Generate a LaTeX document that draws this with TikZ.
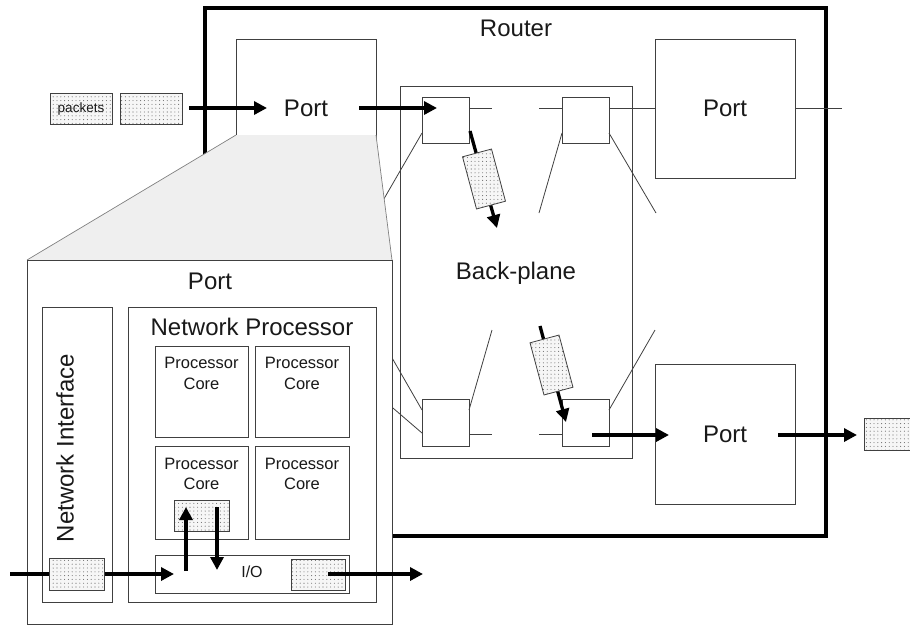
\documentclass[tikz,border=0pt]{standalone}
\usepackage{fontspec}
\setmainfont{Liberation Sans}
\usetikzlibrary{arrows.meta,patterns.meta}
\definecolor{lg}{HTML}{404040}
\definecolor{trap}{HTML}{EFEFEF}
\definecolor{pkbg}{HTML}{F6F6F6}
\definecolor{dotc}{HTML}{707070}
\tikzset{
  box/.style={draw=lg, line width=0.8pt, inner sep=0pt, outer sep=0pt, fill=white},
  thinline/.style={draw=lg, line width=0.8pt},
  arr/.style={line width=3.3pt, black, -{Triangle[length=13pt,width=13pt]}},
  pkt/.style={draw=lg, line width=0.8pt, inner sep=0pt, outer sep=0pt,
    preaction={fill=pkbg}, pattern={Dots[distance=3.8pt,radius=0.55pt]}, pattern color=dotc},
  big/.style={font=\fontsize{24}{28}\selectfont, inner sep=0pt, anchor=base, text=black!90},
  coretxt/.style={font=\fontsize{16.5}{20}\selectfont, inner sep=0pt, anchor=base, text=black!90},
  iotxt/.style={font=\fontsize{16}{20}\selectfont, inner sep=0pt, anchor=base, text=black!90},
  pkttxt/.style={font=\fontsize{13.5}{16}\selectfont, inner sep=0pt, anchor=base, text=black!90},
}
\begin{document}
\begin{tikzpicture}[x=1pt,y=-1pt]
\useasboundingbox (0,0) rectangle (910,625);

% Router
\node[draw=black, line width=3.2pt, inner sep=0pt, outer sep=0pt,
      minimum width=621pt, minimum height=528pt] (router) at (515.5,272) {};
\node[big] (routerlbl) at (516,36) {Router};

% top-left port
\node[box, minimum width=140pt, minimum height=139pt] (tlport) at (306,108.5) {};
\node[big] (tlportlbl) at (306,116.5) {Port};

% right ports
\node[box, minimum width=140pt, minimum height=139pt] (rtport) at (725,108.5) {};
\node[big] (rtportlbl) at (725,116) {Port};
\node[box, minimum width=140pt, minimum height=140pt] (rbport) at (725,434) {};
\node[big] (rbportlbl) at (725,442) {Port};

% back-plane
\node[box, minimum width=232pt, minimum height=372pt] (bp) at (516,272) {};
\node[big] (bplbl) at (516,279) {Back-plane};

% switches
\node[box, minimum width=47pt, minimum height=46pt] (swTL) at (445.5,120) {};
\node[box, minimum width=47pt, minimum height=46pt] (swTR) at (585.5,120) {};
\node[box, minimum width=47pt, minimum height=47pt] (swBL) at (445.5,422.5) {};
\node[box, minimum width=47pt, minimum height=47pt] (swBR) at (585.5,422.5) {};

% crossbar lines
\coordinate (hTLe) at (492,108);
\coordinate (hTRs) at (539,108);
\coordinate (hOut) at (842,108);
\coordinate (hBLe) at (492,434);
\coordinate (hBRs) at (539,434);
\draw[thinline] (swTL.east |- 0,108) -- (hTLe);
\draw[thinline] (hTRs) -- (swTR.west |- 0,108);
\draw[thinline] (swTR.east |- 0,108) -- (rtport.west |- 0,108);
\draw[thinline] (rtport.east |- 0,108) -- (hOut);
\draw[thinline] (swBL.east |- 0,434) -- (hBLe);
\draw[thinline] (hBRs) -- (swBR.west |- 0,434);

\coordinate (dTL) at (370,223);
\coordinate (dTRl) at (539,213);
\coordinate (dTRr) at (656,213);
\coordinate (dBLr) at (492,330);
\coordinate (dBRr) at (655,330);
\coordinate (dBLa) at (372,323);
\coordinate (dBLb) at (372,390);
\draw[thinline] (swTL.west |- 0,133) -- (dTL);
\draw[thinline] (swTR.west |- 0,133) -- (dTRl);
\draw[thinline] (swTR.east |- 0,133) -- (dTRr);
\draw[thinline] (swBL.east |- 0,410) -- (dBLr);
\draw[thinline] (swBR.east |- 0,410) -- (dBRr);
\draw[thinline] (swBL.west |- 0,410) -- (dBLa);
\draw[thinline] (swBL.west |- 0,433) -- (dBLb);

% incoming packets
\node[pkt, minimum width=62pt, minimum height=31pt] (pk1) at (81,108.5) {};
\node[pkttxt] (pk1lbl) at (81,112.7) {packets};
\node[pkt, minimum width=62pt, minimum height=31pt] (pk2) at (151,108.5) {};

\coordinate (a1s) at (189,108);
\coordinate (a1e) at (267,108);
\coordinate (a2s) at (359,108);
\coordinate (a2e) at (437,108);
\draw[arr] (a1s) -- (a1e);
\draw[arr] (a2s) -- (a2e);

% packets through the back-plane
\coordinate (d1s) at (470,131);
\coordinate (d1e) at (497,228);
\draw[arr] (d1s) -- (d1e);
\node[pkt, minimum width=30pt, minimum height=54pt, rotate=15] (dp1) at (484,179) {};
\coordinate (d2s) at (540,326);
\coordinate (d2e) at (566,422);
\draw[arr] (d2s) -- (d2e);
\node[pkt, minimum width=30pt, minimum height=54pt, rotate=15] (dp2) at (551.5,365) {};

% outgoing
\coordinate (a5s) at (592,435);
\coordinate (a5e) at (669,435);
\coordinate (a6s) at (778,435);
\coordinate (a6e) at (857,435);
\draw[arr] (a5s) -- (a5e);
\draw[arr] (a6s) -- (a6e);
\node[pkt, minimum width=62pt, minimum height=32pt] (pkout) at (895,434) {};

% zoom trapezoid
\fill[trap] (236,135) -- (376,135) -- (392,260) -- (27,260) -- cycle;
\draw[draw=gray, line width=0.7pt] (236,135) -- (27,260);
\draw[draw=gray, line width=0.7pt] (376,135) -- (392,260);

% port detail
\node[box, minimum width=365pt, minimum height=364pt] (detail) at (209.5,442) {};
\node[big] (detaillbl) at (210,289) {Port};

\node[box, minimum width=70pt, minimum height=295pt] (ni) at (77,454.5) {};
\node[font=\fontsize{24}{28}\selectfont, inner sep=0pt, rotate=90, text=black!90] (nilbl) at (65,448) {Network Interface};

\node[box, minimum width=248pt, minimum height=295pt] (np) at (252,454.5) {};
\node[big] (nplbl) at (252,335) {Network Processor};

\node[box, minimum width=93pt, minimum height=91pt] (c1) at (201.5,391.5) {};
\node[box, minimum width=94pt, minimum height=91pt] (c2) at (302,391.5) {};
\node[box, minimum width=93pt, minimum height=93pt] (c3) at (201.5,492.5) {};
\node[box, minimum width=94pt, minimum height=93pt] (c4) at (302,492.5) {};
\node[coretxt] (c1a) at (201.5,368) {Processor};
\node[coretxt] (c1b) at (201.5,389) {Core};
\node[coretxt] (c2a) at (302,368) {Processor};
\node[coretxt] (c2b) at (302,389) {Core};
\node[coretxt] (c3a) at (201.5,469) {Processor};
\node[coretxt] (c3b) at (201.5,489) {Core};
\node[coretxt] (c4a) at (302,469) {Processor};
\node[coretxt] (c4b) at (302,489) {Core};

\node[pkt, minimum width=55pt, minimum height=31pt] (cpk) at (201.5,515.5) {};

\node[box, minimum width=194pt, minimum height=38pt] (io) at (252,574) {};
\node[iotxt] (iolbl) at (252,577) {I/O};
\node[pkt, minimum width=54pt, minimum height=31pt] (iopk) at (318,574.5) {};

\coordinate (nis) at (10,574);
\coordinate (nie) at (174,574);
\draw[arr] (nis) -- (nie);
\node[pkt, minimum width=55pt, minimum height=32pt] (nipk) at (76.5,574) {};

\coordinate (ups) at (186,571);
\coordinate (upe) at (186,507);
\coordinate (dns) at (217,507);
\coordinate (dne) at (217,570);
\draw[arr] (ups) -- (upe);
\draw[arr] (dns) -- (dne);

\coordinate (outs) at (328,574);
\coordinate (oute) at (423,574);
\draw[arr] (outs) -- (oute);
\end{tikzpicture}
\end{document}
